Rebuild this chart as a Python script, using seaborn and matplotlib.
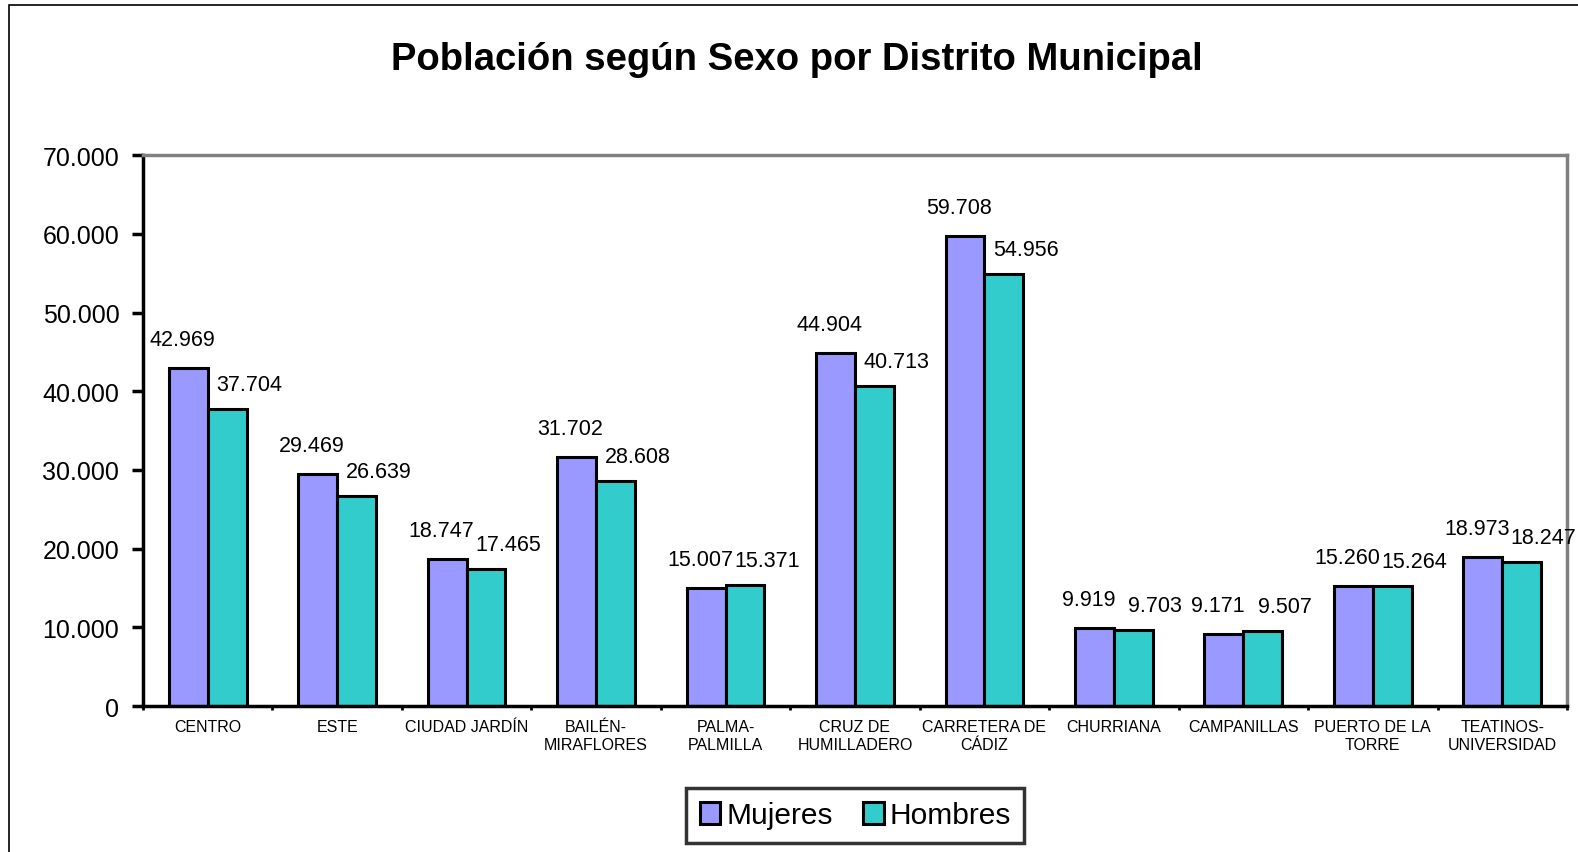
import matplotlib
matplotlib.use("Agg")
import matplotlib.pyplot as plt
import seaborn as sns
import pandas as pd
from matplotlib.ticker import FuncFormatter, FixedLocator
from matplotlib.patches import Rectangle, Patch

distritos = ["CENTRO", "ESTE", "CIUDAD JARDÍN", "BAILÉN-\nMIRAFLORES", "PALMA-\nPALMILLA",
             "CRUZ DE\nHUMILLADERO", "CARRETERA DE\nCÁDIZ", "CHURRIANA", "CAMPANILLAS",
             "PUERTO DE LA\nTORRE", "TEATINOS-\nUNIVERSIDAD"]
mujeres = [42969, 29469, 18747, 31702, 15007, 44904, 59708, 9919, 9171, 15260, 18973]
hombres = [37704, 26639, 17465, 28608, 15371, 40713, 54956, 9703, 9507, 15264, 18247]
series = ["Mujeres", "Hombres"]
colors = ["#9999FF", "#33CCCC"]

df = pd.DataFrame({
    "Distrito": distritos * 2,
    "Poblacion": mujeres + hombres,
    "Sexo": [series[0]] * len(distritos) + [series[1]] * len(distritos),
})

sns.set_theme(style="white")
plt.rcParams["font.family"] = ["Liberation Sans", "DejaVu Sans"]
plt.rcParams["text.color"] = "black"
plt.rcParams["xtick.color"] = "black"
plt.rcParams["ytick.color"] = "black"

fig = plt.figure(figsize=(15.78, 8.53), dpi=100)
ax = fig.add_axes([0.0906, 0.171, 0.9024, 0.646])

sns.barplot(data=df, x="Distrito", y="Poblacion", hue="Sexo", palette=colors,
            saturation=1, edgecolor="black", linewidth=2.2, width=0.6, ax=ax,
            legend=False, errorbar=None)

ax.set_xlim(-0.5, len(distritos) - 0.5)
ax.set_ylim(0, 70000)
ax.set_yticks(range(0, 70001, 10000))
ax.yaxis.set_major_formatter(FuncFormatter(lambda v, p: f"{v:,.0f}".replace(",", ".")))
ax.tick_params(axis="y", which="major", direction="out", length=8, width=2.5,
               color="black", labelcolor="black", labelsize=18, pad=9, left=True)
ax.set_xticks(range(len(distritos)))
ax.set_xticklabels(distritos, fontsize=11.5, linespacing=1.25, color="black")
ax.tick_params(axis="x", which="major", length=0, pad=9)
ax.xaxis.set_minor_locator(FixedLocator([i + 0.5 for i in range(-1, len(distritos))]))
ax.tick_params(axis="x", which="minor", direction="out", length=3, width=2,
               color="black", bottom=True)
ax.set_xlabel("")
ax.set_ylabel("")

for s in ["left", "bottom"]:
    ax.spines[s].set_color("black")
    ax.spines[s].set_linewidth(2.5)
for s in ["top", "right"]:
    ax.spines[s].set_visible(True)
    ax.spines[s].set_color("#808080")
    ax.spines[s].set_linewidth(2.5)
ax.grid(False)

# data labels from bar patches
containers = ax.containers
offsets = [(-6, 18), (22, 14)]
for ci, cont in enumerate(containers):
    for bar in cont:
        h = bar.get_height()
        xc = bar.get_x() + bar.get_width() / 2
        ax.annotate(f"{h:,.0f}".replace(",", "."), (xc, h), xytext=offsets[ci],
                    textcoords="offset pixels", ha="center", va="bottom",
                    fontsize=15.5, color="black", annotation_clip=False)

fig.text(0.505, 0.93, "Población según Sexo por Distrito Municipal", ha="center",
         va="center", fontsize=27.5, fontweight="bold", color="black")

handles = [Patch(facecolor=c, edgecolor="black", linewidth=2.2) for c in colors]
leg = fig.legend(handles, series, loc="center", bbox_to_anchor=(0.542, 0.043),
                 ncol=2, fontsize=21.5, frameon=True, fancybox=False,
                 handlelength=0.7, handleheight=0.8, handletextpad=0.2,
                 columnspacing=1.0, borderpad=0.45, borderaxespad=0)
leg.get_frame().set_edgecolor("black")
leg.get_frame().set_linewidth(2.5)
for t in leg.get_texts():
    t.set_color("black")

fig.patches.append(Rectangle((9 / 1578, -0.05), 1.2, 1 - 6 / 853 + 0.05,
                             transform=fig.transFigure, fill=False,
                             edgecolor="black", linewidth=1.2))

fig.savefig("out.png", dpi=100, facecolor="white")
